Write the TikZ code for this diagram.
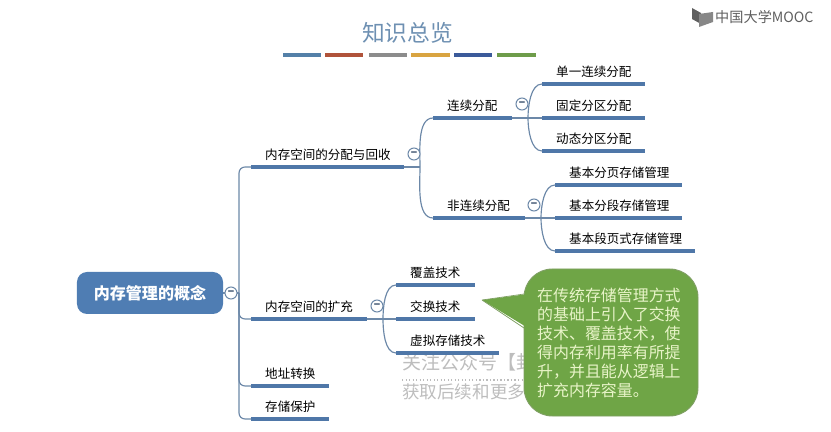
\documentclass[tikz,border=0pt]{standalone}
\usepackage{fontspec}
\setmainfont{Noto Sans CJK SC}
\usepackage{tikz}
\usetikzlibrary{positioning}

\definecolor{barblue}{HTML}{4F77A8}
\definecolor{linkblue}{HTML}{6C88A8}
\definecolor{rootblue}{HTML}{4F7DB3}
\definecolor{titleblue}{HTML}{6E90B2}
\definecolor{notegreen}{HTML}{6FA546}
\definecolor{noteedge}{HTML}{7F9F63}
\definecolor{notetext}{HTML}{E8F4C8}
\definecolor{logogray}{HTML}{5F5F5F}
\definecolor{markgray}{HTML}{BDBDBD}

\tikzset{
  topic/.style={anchor=south west,text width=#1*0.03cm-0.84cm,align=left,inner xsep=0.42cm,
    inner ysep=0.17cm,text height=0.33cm,text depth=0.05cm,font=\fontsize{10.7}{12}\selectfont,
    append after command={(\tikzlastnode.south west) edge[barline] (\tikzlastnode.south east)}},
  barline/.style={draw=barblue,line width=2.6pt},
  branch/.style={draw=linkblue,line width=1pt},
  upcurve/.style={out=90,in=180,looseness=0.8},
  downcurve/.style={out=270,in=180,looseness=0.8},
  fold/.style={circle,draw=linkblue,fill=white,line width=0.9pt,minimum size=0.36cm,inner sep=0pt,
    text=barblue!60!black,font=\fontsize{9}{9}\bfseries\selectfont},
  seg/.style={line width=3.4pt}
}

\begin{document}
\begin{tikzpicture}[x=0.03cm,y=-0.03cm]
  \useasboundingbox (0,0) rectangle (831,432);

  % title and logo
  \node[text=titleblue,font=\fontsize{19.4}{22}\selectfont] (title) at (407.5,33) {知识总览};
  \foreach \xa/\xb/\col in {283/321/5480A8,325/363/B0533A,369/407/8C8C8C,411/450/D9A441,454/492/3B5A9A,497/536/6E9C4A}{
    \definecolor{segcol}{HTML}{\col}
    \draw[seg,draw=segcol] (\xa,55) -- (\xb,55);
  }
  \fill[logogray] (692,8) -- (701,13) -- (701,24) -- (692,19) -- cycle;
  \fill[logogray!75] (699,14) -- (713,12) -- (713,22) -- (699,27) -- cycle;
  \node[anchor=west,inner sep=0pt,text=logogray,font=\fontsize{12.1}{13}\selectfont] (logo) at (715,17) {中国大学MOOC};

  % watermark
  \node[anchor=west,inner sep=0pt,text=markgray,font=\fontsize{16.2}{18}\selectfont] (mark1) at (402,362) {关注公众号【封};
  \node[anchor=west,inner sep=0pt,text=markgray,font=\fontsize{15}{17}\selectfont] (mark2) at (402,392) {获取后续和更多};
  \draw[markgray,dotted,line width=1pt] (402,380) -- (524,380);

  % root
  \node[fill=rootblue,rounded corners=0.3cm,minimum width=4.38cm,minimum height=1.26cm,text=white,
    font=\fontsize{13.7}{16}\bfseries\selectfont] (root) at (150,293) {内存管理的概念};

  % first level
  \node[topic=153] (alloc) at (251,167) {内存空间的分配与回收};
  \node[topic=116] (expand) at (251,319) {内存空间的扩充};
  \node[topic=78] (trans) at (251,386) {地址转换};
  \node[topic=78] (protect) at (251,419) {存储保护};

  % second level
  \node[topic=79] (cont) at (433,118) {连续分配};
  \node[topic=92] (noncont) at (433,218) {非连续分配};
  \node[topic=79] (cover) at (396,285) {覆盖技术};
  \node[topic=79] (swap) at (396,319) {交换技术};
  \node[topic=103] (virt) at (396,353) {虚拟存储技术};

  % third level
  \node[topic=103] (single) at (542,84) {单一连续分配};
  \node[topic=103] (fixed) at (542,118) {固定分区分配};
  \node[topic=103] (dynamic) at (542,151) {动态分区分配};
  \node[topic=127] (page) at (555,185) {基本分页存储管理};
  \node[topic=127] (segm) at (555,218) {基本分段存储管理};
  \node[topic=140] (segpage) at (555,251) {基本段页式存储管理};

  % split points
  \coordinate (trunk) at (239,293);
  \coordinate (split1) at (420,167);
  \coordinate (split2) at (383,319);
  \coordinate (split3) at (528,118);
  \coordinate (split4) at (541,218);

  % links
  \draw[branch] (root.east) -- (trunk);
  \foreach \kid in {alloc,expand,trans,protect}
    \draw[branch,rounded corners=0.18cm] (trunk) |- (\kid.south west);
  \draw[branch] (alloc.south east) -- (split1);
  \draw[branch] (split1) to[upcurve] (cont.south west);
  \draw[branch] (split1) to[downcurve] (noncont.south west);
  \draw[branch] (expand.south east) -- (swap.south west);
  \draw[branch] (split2) to[upcurve] (cover.south west);
  \draw[branch] (split2) to[downcurve] (virt.south west);
  \draw[branch] (cont.south east) -- (fixed.south west);
  \draw[branch] (split3) to[upcurve] (single.south west);
  \draw[branch] (split3) to[downcurve] (dynamic.south west);
  \draw[branch] (noncont.south east) -- (segm.south west);
  \draw[branch] (split4) to[upcurve] (page.south west);
  \draw[branch] (split4) to[downcurve] (segpage.south west);

  % fold marks
  \node[fold] (fold0) at (231,293) {−};
  \node[fold] (fold1) at (414,154) {−};
  \node[fold] (fold2) at (377,306) {−};
  \node[fold] (fold3) at (522,104) {−};
  \node[fold] (fold4) at (534,205) {−};

  % note
  \coordinate (tip) at (482,300);
  \node[draw=noteedge,fill=notegreen,rounded corners=0.85cm,minimum width=5.22cm,minimum height=4.41cm,
    line width=0.8pt] (note) at (611,342.5) {};
  \fill[notegreen] (tip) -- (528,294) -- (528,328) -- cycle;
  \draw[noteedge,line width=0.6pt] (tip) -- (524,294) (tip) -- (524,328);
  \node[anchor=north west,inner sep=0pt,text=notetext,align=left,
    font=\fontsize{13.6}{16.2}\selectfont] (notetxt) at (537,288) {在传统存储管理方式\\的基础上引入了交换\\技术、覆盖技术，使\\得内存利用率有所提\\升，并且能从逻辑上\\扩充内存容量。};
\end{tikzpicture}
\end{document}
